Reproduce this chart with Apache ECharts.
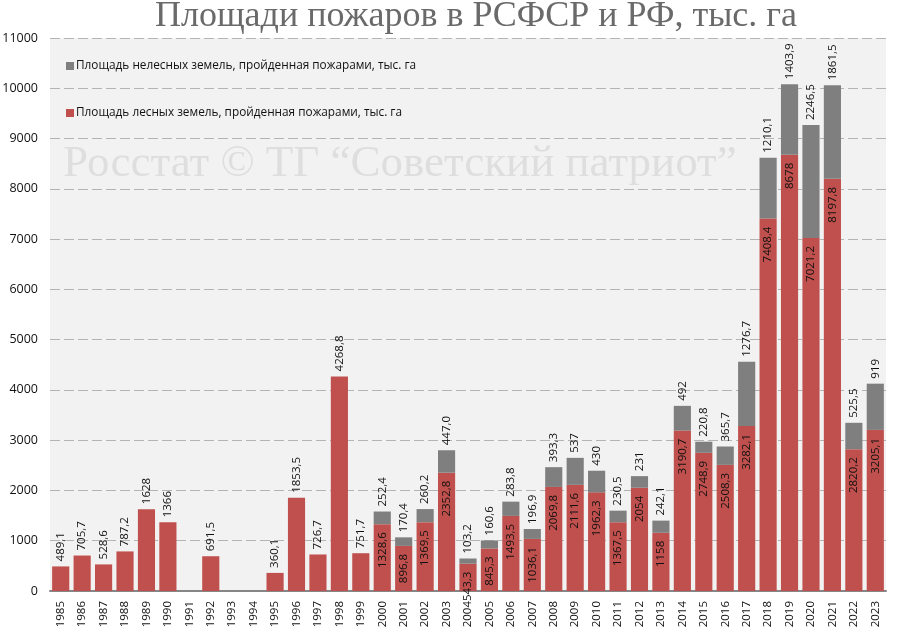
<!DOCTYPE html>
<html>
<head>
<meta charset="utf-8">
<style>
html, body { margin: 0; padding: 0; background: #fff; }
#chart { width: 898px; height: 634px; }
</style>
<script src="https://cdn.jsdelivr.net/npm/echarts@6/dist/echarts.min.js"></script>
</head>
<body>
<div id="chart"></div>
<script>
// значения как подписаны на картинке, пустая строка - нет данных
const years = ['1985', '1986', '1987', '1988', '1989', '1990', '1991', '1992', '1993', '1994', '1995', '1996', '1997',
    '1998', '1999', '2000', '2001', '2002', '2003', '2004', '2005', '2006', '2007', '2008', '2009', '2010', '2011',
    '2012', '2013', '2014', '2015', '2016', '2017', '2018', '2019', '2020', '2021', '2022', '2023']
const forest = ['489,1', '705,7', '528,6', '787,2', '1628', '1366', '', '691,5', '', '', '360,1', '1853,5', '726,7',
    '4268,8', '751,7', '1328,6', '896,8', '1369,5', '2352,8', '543,3', '845,3', '1493,5', '1036,1', '2069,8', '2111,6',
    '1962,3', '1367,5', '2054', '1158', '3190,7', '2748,9', '2508,3', '3282,1', '7408,4', '8678', '7021,2', '8197,8',
    '2820,2', '3205,1']
const nonForest = ['', '', '', '', '', '', '', '', '', '', '', '', '', '', '', '252,4', '170,4', '260,2', '447,0',
    '103,2', '160,6', '283,8', '196,9', '393,3', '537', '430', '230,5', '231', '242,1', '492', '220,8', '365,7',
    '1276,7', '1210,1', '1403,9', '2246,5', '1861,5', '525,5', '919']
const forestName = 'Площадь лесных земель, пройденная пожарами, тыс. га'
const nonForestName = 'Площадь нелесных земель, пройденная пожарами, тыс. га'

function toNumber(s) {
    return s === '' ? null : Number(s.replace(',', '.'))
}

const textFont = '"Open Sans", "Noto Sans", sans-serif'
const serifFont = '"Liberation Serif", serif'

let myChart = echarts.init(document.getElementById('chart'))

// подпись красного столбца: сверху, если серого нет, иначе внутри
let forestData = forest.map(function (s, i) {
    let onTop = nonForest[i] === ''
    return {
        value: toNumber(s),
        label: onTop
            ? { position: 'top', align: 'left', distance: 5 }
            : { position: 'insideTop', align: 'right', distance: 8 }
    }
})

let option = {
    animation: false,
    backgroundColor: '#fff',
    textStyle: { fontFamily: textFont },
    title: {
        text: 'Площади пожаров в РСФСР и РФ, тыс. га',
        left: 471,
        top: -6,
        textAlign: 'center',
        textStyle: { fontFamily: serifFont, fontSize: 36, fontWeight: 'normal', color: '#6a6a6a' }
    },
    legend: {
        orient: 'vertical',
        left: 61,
        top: 55,
        itemWidth: 8,
        itemHeight: 8,
        itemGap: 35,
        icon: 'rect',
        data: [nonForestName, forestName],
        textStyle: { fontFamily: textFont, fontSize: 11.8, color: '#111', padding: [0, 0, 0, -3] }
    },
    grid: {
        left: 50, right: 12, top: 38, bottom: 43,
        outerBoundsMode: 'none',
        show: true, backgroundColor: '#f2f2f2', borderWidth: 0
    },
    xAxis: {
        type: 'category',
        data: years,
        axisLine: { lineStyle: { color: '#868686', width: 2 } },
        axisTick: { length: 5, lineStyle: { color: '#868686', width: 2 } },
        axisLabel: { rotate: 90, interval: 0, fontSize: 11.5, color: '#111', margin: 10 }
    },
    yAxis: {
        type: 'value',
        min: 0,
        max: 11000,
        interval: 1000,
        axisLine: { show: false },
        axisTick: { show: false },
        axisLabel: {
            fontSize: 12.5,
            color: '#111',
            margin: 12,
            formatter: function (v) { return String(v) }
        },
        splitLine: { lineStyle: { color: '#b4b4b4', type: [10, 4], width: 1 } }
    },
    graphic: [{
        type: 'text',
        left: 63,
        top: 142,
        z: 1,
        style: {
            text: 'Росстат © ТГ “Советский патриот”',
            font: '45px "Liberation Serif", serif',
            fill: '#dedede'
        }
    }],
    series: [
        {
            name: forestName,
            type: 'bar',
            stack: 'total',
            barWidth: '80%',
            z: 3,
            itemStyle: { color: '#c0504d' },
            label: {
                show: true,
                rotate: 90,
                verticalAlign: 'middle',
                fontSize: 11.5,
                color: '#111',
                formatter: function (p) { return forest[p.dataIndex] }
            },
            data: forestData
        },
        {
            name: nonForestName,
            type: 'bar',
            stack: 'total',
            barWidth: '80%',
            z: 3,
            itemStyle: { color: '#7f7f7f' },
            label: {
                show: true,
                position: 'top',
                rotate: 90,
                align: 'left',
                verticalAlign: 'middle',
                distance: 5,
                fontSize: 11.5,
                color: '#111',
                formatter: function (p) { return nonForest[p.dataIndex] }
            },
            data: nonForest.map(toNumber)
        }
    ]
}
myChart.setOption(option)
</script>
</body>
</html>
